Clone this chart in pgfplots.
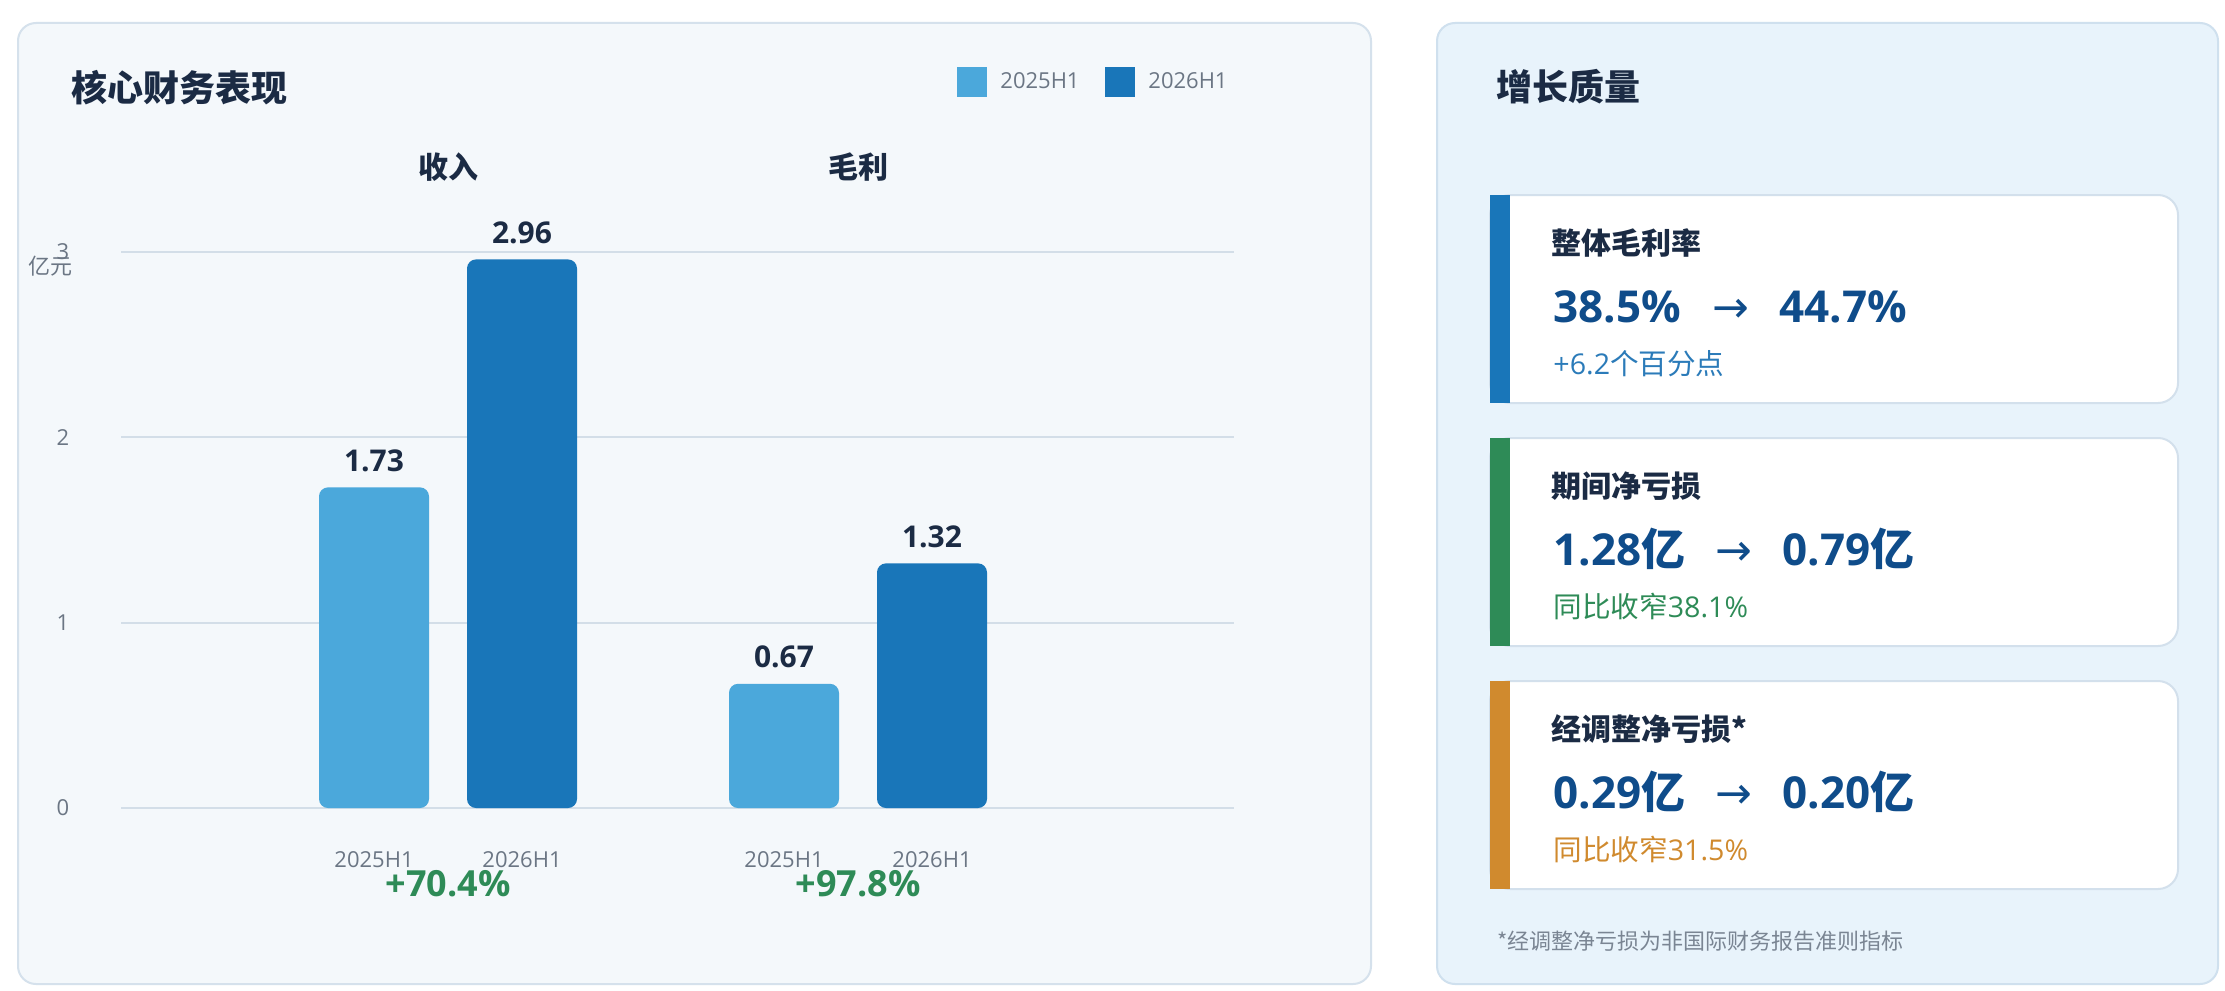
\documentclass[border=0pt]{standalone}
\usepackage{fontspec}
\setmainfont{Open Sans}
\newfontfamily\cjk{Noto Sans CJK SC}
\newfontfamily\sym{DejaVu Sans}
\usepackage{pgfplots}
\pgfplotsset{compat=1.18}
\definecolor{barLight}{HTML}{4BA8DB}
\definecolor{barDark}{HTML}{1976B9}
\definecolor{navy}{HTML}{1B2B44}
\definecolor{tickGray}{HTML}{6B7684}
\definecolor{growGreen}{HTML}{2E8B57}
\definecolor{accOrange}{HTML}{D08A2E}
\definecolor{bigNum}{HTML}{0F4C8A}
\definecolor{subBlue}{HTML}{2B7BB9}
\definecolor{gridC}{HTML}{D3DEE8}
\definecolor{leftBg}{HTML}{F4F8FB}
\definecolor{leftBorder}{HTML}{D5E1EC}
\definecolor{rightBg}{HTML}{E8F3FB}
\definecolor{rightBorder}{HTML}{CFE0EE}
\definecolor{cardBorder}{HTML}{D3E0EC}
\definecolor{footGray}{HTML}{7A8593}

\begin{document}
\begin{tikzpicture}
\begin{scope}[x=0.5pt,y=-0.5pt]
\useasboundingbox (0,0) rectangle (2225,990);
\fill[white] (0,0) rectangle (2225,990);
% cards
\filldraw[fill=leftBg, draw=leftBorder, line width=1pt, rounded corners=9pt] (18,23) rectangle (1371,984);
\begin{scope}
\clip (0,0) rectangle (2225,990);
\filldraw[fill=rightBg, draw=rightBorder, line width=1pt, rounded corners=9pt] (1437,23) rectangle (2218,984);
\end{scope}
% left title
\node[anchor=base west, inner sep=0, font=\cjk\bfseries\fontsize{18}{18}\selectfont, text=navy] at (71,102) {核心财务表现};
% legend
\fill[barLight] (957,67) rectangle (987,97);
\node[anchor=west, inner sep=0, font=\fontsize{11}{11}\selectfont, text=tickGray] at (1000,81) {2025H1};
\fill[barDark] (1105,67) rectangle (1135,97);
\node[anchor=west, inner sep=0, font=\fontsize{11}{11}\selectfont, text=tickGray] at (1148,81) {2026H1};
% y unit
\node[inner sep=0, font=\cjk\fontsize{11}{11}\selectfont, text=tickGray] at (50,266) {亿元};
% right title
\node[anchor=base west, inner sep=0, font=\cjk\bfseries\fontsize{18}{18}\selectfont, text=navy] at (1496,101) {增长质量};
% inner cards
\foreach \t/\c in {195/barDark, 438/growGreen, 681/accOrange}{
  \filldraw[fill=white, draw=cardBorder, line width=1pt, rounded corners=10pt] (1490,\t) rectangle (2178,\t+208);
  \fill[\c] (1490,\t) rectangle (1510,\t+208);
}
% card 1
\node[anchor=base west, inner sep=0, font=\cjk\bfseries\fontsize{15}{15}\selectfont, text=navy] at (1551,254) {整体毛利率};
\node[anchor=base west, inner sep=0, font=\bfseries\fontsize{22}{22}\selectfont, text=bigNum] at (1553,322) {38.5\%};
\node[anchor=base, inner sep=0, font=\sym\fontsize{22}{22}\selectfont, text=bigNum] at (1731,322) {→};
\node[anchor=base west, inner sep=0, font=\bfseries\fontsize{22}{22}\selectfont, text=bigNum] at (1779,322) {44.7\%};
\node[anchor=base west, inner sep=0, font=\fontsize{14.3}{14.3}\selectfont, text=subBlue] at (1553,374) {+6.2{\cjk 个百分点}};
% card 2
\node[anchor=base west, inner sep=0, font=\cjk\bfseries\fontsize{15}{15}\selectfont, text=navy] at (1551,497) {期间净亏损};
\node[anchor=base west, inner sep=0, font=\bfseries\fontsize{22}{22}\selectfont, text=bigNum] at (1553,565) {1.28{\cjk 亿}};
\node[anchor=base, inner sep=0, font=\sym\fontsize{22}{22}\selectfont, text=bigNum] at (1734,565) {→};
\node[anchor=base west, inner sep=0, font=\bfseries\fontsize{22}{22}\selectfont, text=bigNum] at (1782,565) {0.79{\cjk 亿}};
\node[anchor=base west, inner sep=0, font=\fontsize{14.3}{14.3}\selectfont, text=growGreen] at (1553,617) {{\cjk 同比收窄}38.1\%};
% card 3
\node[anchor=base west, inner sep=0, font=\cjk\bfseries\fontsize{15}{15}\selectfont, text=navy] at (1551,740) {经调整净亏损*};
\node[anchor=base west, inner sep=0, font=\bfseries\fontsize{22}{22}\selectfont, text=bigNum] at (1553,808) {0.29{\cjk 亿}};
\node[anchor=base, inner sep=0, font=\sym\fontsize{22}{22}\selectfont, text=bigNum] at (1734,808) {→};
\node[anchor=base west, inner sep=0, font=\bfseries\fontsize{22}{22}\selectfont, text=bigNum] at (1782,808) {0.20{\cjk 亿}};
\node[anchor=base west, inner sep=0, font=\fontsize{14.3}{14.3}\selectfont, text=accOrange] at (1553,860) {{\cjk 同比收窄}31.5\%};
% footnote
\node[anchor=base west, inner sep=0, font=\cjk\fontsize{11}{11}\selectfont, text=footGray] at (1497,949) {*经调整净亏损为非国际财务报告准则指标};
\end{scope}

\begin{axis}[
  at={(60.5pt,-404pt)}, anchor=south west,
  scale only axis, width=556.5pt, height=278pt,
  xmin=-0.7976, xmax=1.9171, ymin=0, ymax=3,
  ybar=19pt, bar width=55pt,
  axis line style={draw=none},
  major tick length=0pt,
  ytick={0,1,2,3},
  ymajorgrids, grid style={line width=1pt, color=gridC},
  xtick={-0.1805,0.1805,0.8195,1.1805},
  xticklabels={2025H1,2026H1,2025H1,2026H1},
  x tick label style={anchor=center, yshift=-26pt, font=\fontsize{11}{11}\selectfont, text=tickGray},
  y tick label style={anchor=center, xshift=-29pt, font=\fontsize{11}{11}\selectfont, text=tickGray},
  /pgf/number format/assume math mode=true,
  clip=false,
  nodes near coords,
  nodes near coords={\pgfmathprintnumber[fixed,fixed zerofill,precision=2,assume math mode=true]{\pgfplotspointmeta}},
  every node near coord/.append style={anchor=center, yshift=13.5pt, font=\bfseries\fontsize{15}{15}\selectfont, text=navy},
]
\addplot[fill=barLight, draw=none, rounded corners=4.5pt] coordinates {(0,1.73) (1,0.67)};
\addplot[fill=barDark, draw=none, rounded corners=4.5pt] coordinates {(0,2.96) (1,1.32)};
\node[font=\cjk\bfseries\fontsize{15}{15}\selectfont, text=navy] at (axis cs:0,3) [yshift=42.5pt] {收入};
\node[font=\cjk\bfseries\fontsize{15}{15}\selectfont, text=navy] at (axis cs:1,3) [yshift=42.5pt] {毛利};
\node[font=\bfseries\fontsize{18}{18}\selectfont, text=growGreen] at (axis cs:0,0) [yshift=-38pt] {+70.4\%};
\node[font=\bfseries\fontsize{18}{18}\selectfont, text=growGreen] at (axis cs:1,0) [yshift=-38pt] {+97.8\%};
\end{axis}
\end{tikzpicture}
\end{document}
